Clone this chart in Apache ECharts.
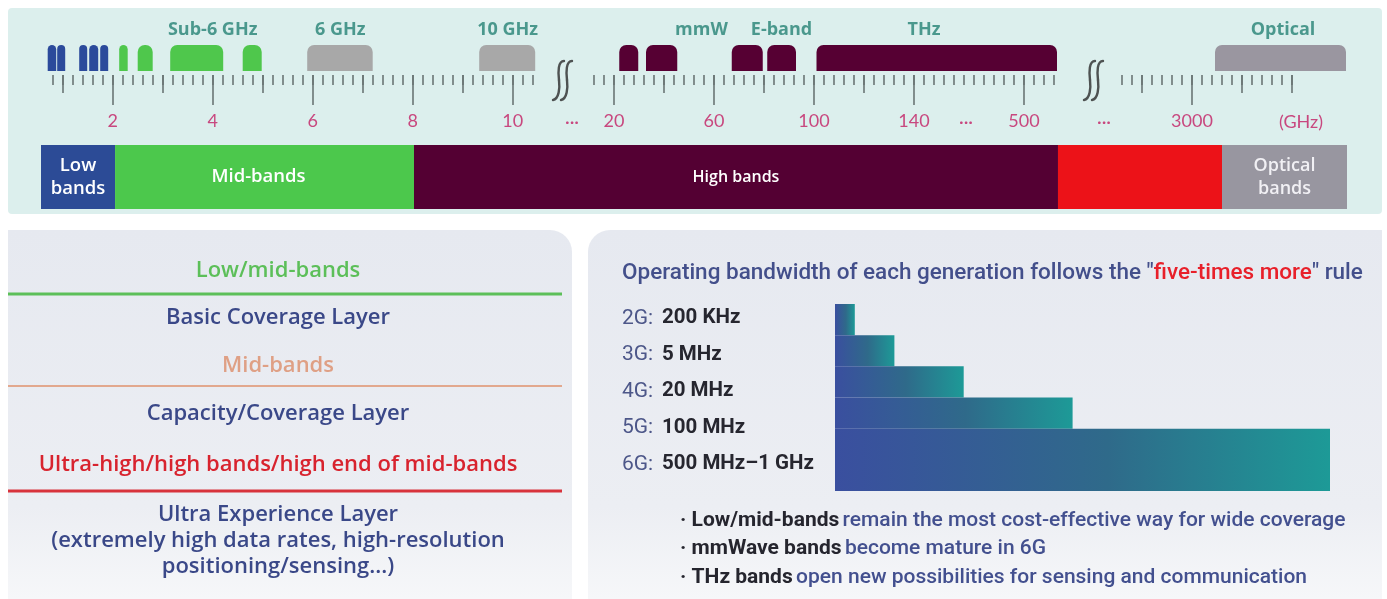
<!DOCTYPE html>
<html>
<head>
<meta charset="utf-8">
<script src="https://cdn.jsdelivr.net/npm/echarts@6/dist/echarts.min.js"></script>
<style>
  html, body { margin: 0; padding: 0; background: #ffffff; }
  #chart { width: 1387px; height: 599px; }
</style>
</head>
<body>
<div id="chart"></div>
<script>
// ---- Spectrum allocations, [from GHz, to GHz] ----
const lowBands      = [[0.70, 0.87], [0.89, 1.05], [1.33, 1.49], [1.53, 1.71], [1.75, 1.91]];
const sub6Bands     = [[2.13, 2.30], [2.50, 2.80], [3.15, 4.21], [4.60, 4.98]];
const upperMidBands = [[5.89, 7.20], [9.33, 10.45]];
const mmWaveBands   = [[22.1, 29.7], [32.8, 45.3], [67.1, 79.5], [81.3, 92.8]];
const thzBands      = [[101, 533]];
const opticalBands  = [[3230, 4540]];

// Band family captions and where they sit on the frequency scale (GHz)
const bandNames  = ['Sub-6 GHz', '6 GHz', '10 GHz', 'mmW', 'E-band', 'THz', 'Optical'];
const bandNameAt = [4, 6.55, 9.9, 55, 87, 144, 3910];

// Labelled frequencies on the ruler (GHz)
const rulerLabels = [2, 4, 6, 8, 10, 20, 60, 100, 140, 500, 3000];

// Spectrum category strip: name and share of the strip (%)
const stripNames  = ['Low\nbands', 'Mid-bands', 'High bands', '', 'Optical\nbands'];
const stripShares = [5.67, 22.89, 49.31, 12.56, 9.57];

// Left panel: layers and their band ranges
const layerBands  = ['Low/mid-bands', 'Mid-bands', 'Ultra-high/high bands/high end of mid-bands'];
const layerNames  = ['Basic Coverage Layer', 'Capacity/Coverage Layer',
                     'Ultra Experience Layer\n(extremely high data rates, high-resolution\npositioning/sensing...)'];

// Right panel: operating bandwidth per generation
const generations    = ['2G', '3G', '4G', '5G', '6G'];
const bandwidthTexts = ['200 KHz', '5 MHz', '20 MHz', '100 MHz', '500 MHz\u20131 GHz'];
const relativeWidth  = [4, 12, 26, 48, 100];

const bulletHeads = ['Low/mid-bands', 'mmWave bands', 'THz bands'];
const bulletTails = ['remain the most cost-effective way for wide coverage',
                     'become mature in 6G',
                     'open new possibilities for sensing and communication'];

// ---- Ruler layout: the frequency axis is split into linear pieces ----
const segments = [
  { min: 0.7,  max: 10.5, left: 47.7, right: 537.7, step: 0.2, first: 0.8,  last: 10.4, mid: [1, 3, 5, 7, 9] },
  { min: 12,   max: 164,  left: 594,  right: 974,   step: 4,   first: 12,   last: 164,  mid: [40, 80, 120] },
  { min: 450,  max: 535,  left: 974,  right: 1059,  step: 10,  first: 460,  last: 530,  mid: [] },
  { min: 2300, max: 4550, left: 1122, right: 1347,  step: 100, first: 2300, last: 4000, mid: [2500, 3500, 4000] }
];

const families = [
  { bands: lowBands,      color: '#2b4a9b' },
  { bands: sub6Bands,     color: '#4fc74c' },
  { bands: upperMidBands, color: '#a8a8a8' },
  { bands: mmWaveBands,   color: '#560033' },
  { bands: thzBands,      color: '#560033' },
  { bands: opticalBands,  color: '#9a96a0' }
];

const NAVY = '#3a4888';
const TICK = '#6a7574';
const PINK = '#c8487f';
const TEAL = '#258274';

const grids = [], xAxes = [], yAxes = [], series = [];

segments.forEach(function (s) {
  // grid holding the band blocks
  const gBand = grids.length;
  grids.push({ left: s.left, width: s.right - s.left, top: 45, height: 26 });
  xAxes.push({ type: 'value', gridIndex: gBand, min: s.min, max: s.max, show: false });
  yAxes.push({ type: 'value', gridIndex: gBand, min: 0, max: 1, show: false });
  const bx = xAxes.length - 1, by = yAxes.length - 1;

  const items = [];
  families.forEach(function (f, fi) {
    f.bands.forEach(function (b) {
      const a = Math.max(b[0], s.min), e = Math.min(b[1], s.max);
      if (e > a) items.push([a, e, fi, b[0] >= s.min ? 1 : 0, b[1] <= s.max ? 1 : 0]);
    });
  });
  series.push({
    type: 'custom', xAxisIndex: bx, yAxisIndex: by, data: items, silent: true,
    renderItem: function (params, api) {
      const p0 = api.coord([api.value(0), 1]);
      const p1 = api.coord([api.value(1), 0]);
      const f = families[api.value(2)];
      const w = p1[0] - p0[0];
      const r = Math.min(7, w / 2);
      return {
        type: 'rect',
        shape: { x: p0[0], y: p0[1], width: w, height: p1[1] - p0[1],
                 r: [api.value(3) ? r : 0, api.value(4) ? r : 0, 0, 0] },
        style: { fill: f.color }
      };
    }
  });

  const names = [];
  bandNameAt.forEach(function (v, i) {
    if (v >= s.min && v <= s.max) names.push({ value: [v, 1], name: bandNames[i] });
  });
  if (names.length) {
    series.push({
      type: 'scatter', xAxisIndex: bx, yAxisIndex: by, data: names, symbolSize: 0,
      clip: false, silent: true,
      label: { show: true, position: 'top', distance: 6, formatter: '{b}',
               color: TEAL, fontFamily: 'Open Sans', fontWeight: 700, fontSize: 18 }
    });
  }

  // grid holding the ruler ticks (axis line sits at y = 75)
  const gTick = grids.length;
  grids.push({ left: s.left, width: s.right - s.left, top: 45, height: 30 });
  yAxes.push({ type: 'value', gridIndex: gTick, min: 0, max: 1, show: false });
  const ticks = [];
  for (let v = s.first; v <= s.last + 1e-9; v += s.step) ticks.push(Math.round(v * 100) / 100);
  const major = rulerLabels.filter(function (v) { return v >= s.min && v <= s.max; });
  const tickSets = [[ticks, 10, []], [s.mid, 18, []], [major, 30, major]];
  tickSets.forEach(function (t) {
    xAxes.push({
      type: 'value', gridIndex: gTick, min: s.min, max: s.max, position: 'bottom',
      axisLine: { show: false }, splitLine: { show: false },
      axisTick: { show: t[0].length > 0, customValues: t[0], length: t[1],
                  lineStyle: { color: TICK, width: 1.6 } },
      axisLabel: { show: t[2].length > 0, customValues: t[2], margin: 37,
                   formatter: function (v) { return String(v); },
                   color: PINK, fontFamily: 'Lato', fontSize: 18 }
    });
  });
});

// spectrum category strip
const gStrip = grids.length;
grids.push({ left: 41, width: 1306, top: 145, height: 64 });
xAxes.push({ type: 'value', gridIndex: gStrip, min: 0, max: 100, show: false });
yAxes.push({ type: 'category', gridIndex: gStrip, data: ['spectrum'], show: false });
const stripColors = ['#2c4b96', '#4cc84c', '#540033', '#ec1218', '#9896a0'];
const stripFont   = [18.5, 18.5, 16, 16, 18];
stripShares.forEach(function (v, i) {
  series.push({
    type: 'bar', stack: 'strip', xAxisIndex: xAxes.length - 1, yAxisIndex: yAxes.length - 1,
    barWidth: '100%', data: [v], silent: true,
    itemStyle: { color: stripColors[i] },
    label: { show: stripNames[i] !== '', position: 'inside', formatter: stripNames[i],
             offset: i === 1 ? [-6, 0] : [0, 0],
             color: i === 4 ? '#f1f0f4' : '#ffffff', fontFamily: 'Open Sans', fontWeight: 600,
             fontSize: stripFont[i], lineHeight: 23 }
  });
});

// bandwidth staircase
const gStair = grids.length;
grids.push({ left: 835, width: 495, top: 304, height: 187 });
xAxes.push({ type: 'value', gridIndex: gStair, min: 0, max: 100, show: false });
yAxes.push({ type: 'value', gridIndex: gStair, min: 0, max: 6, inverse: true, show: false });
series.push({
  type: 'custom', xAxisIndex: xAxes.length - 1, yAxisIndex: yAxes.length - 1, silent: true,
  data: relativeWidth.map(function (w, i) { return [w, i]; }),
  renderItem: function (params, api) {
    const i = api.value(1);
    const last = i === relativeWidth.length - 1;
    const p0 = api.coord([0, i]);
    const p1 = api.coord([api.value(0), last ? 6 : i + 1]);
    return {
      type: 'rect',
      shape: { x: p0[0], y: p0[1], width: p1[0] - p0[0], height: p1[1] - p0[1] },
      style: {
        fill: new echarts.graphic.LinearGradient(0, 0, 1, 0, [
          { offset: 0, color: '#3a4f9f' },
          { offset: 0.55, color: '#2f6a8a' },
          { offset: 1, color: '#1d9a97' }
        ])
      }
    };
  }
});

// generation labels
const gLab = grids.length;
grids.push({ left: 622, width: 200, top: 300, height: 182.5 });
xAxes.push({ type: 'value', gridIndex: gLab, min: 0, max: 1, show: false });
yAxes.push({
  type: 'category', gridIndex: gLab, data: generations, inverse: true,
  axisLine: { show: false }, axisTick: { show: false }, splitLine: { show: false },
  axisLabel: {
    inside: true, margin: 0, align: 'left',
    formatter: function (v, idx) { return '{g|' + v + ':}{v|' + bandwidthTexts[idx] + '}'; },
    rich: {
      g: { color: '#4d5789', fontFamily: 'Roboto', fontSize: 21, width: 40 },
      v: { color: '#26262f', fontFamily: 'Roboto', fontWeight: 700, fontSize: 20.5 }
    }
  }
});

// ---- Decorations and text blocks ----
const graphics = [];
graphics.push({ type: 'rect', z: -10, shape: { x: 8, y: 8, width: 1374, height: 206, r: 4 },
                style: { fill: '#dcefed' } });
const panelFill = new echarts.graphic.LinearGradient(0, 0, 0, 1, [
  { offset: 0, color: '#e6e9f0' }, { offset: 0.75, color: '#eceef3' }, { offset: 1, color: '#f6f7f9' }
]);
graphics.push({ type: 'rect', z: -10, shape: { x: 8, y: 230, width: 564, height: 369, r: [0, 22, 0, 0] },
                style: { fill: panelFill } });
graphics.push({ type: 'rect', z: -10, shape: { x: 588, y: 230, width: 794, height: 369, r: [22, 0, 0, 0] },
                style: { fill: panelFill } });

// axis break marks: two S-shaped strokes each
[556, 1087].forEach(function (x0) {
  [0, 8].forEach(function (dx) {
    const x = x0 + dx;
    const stroke = { stroke: '#4e5252', lineWidth: 2.4, fill: null, lineCap: 'round' };
    graphics.push({ type: 'bezierCurve', z: 5,
      shape: { x1: x + 8, y1: 61, cpx1: x + 2, cpy1: 61, cpx2: x + 2, cpy2: 72, x2: x + 3, y2: 80 },
      style: stroke });
    graphics.push({ type: 'bezierCurve', z: 5,
      shape: { x1: x + 3, y1: 80, cpx1: x + 4, cpy1: 88, cpx2: x + 3, cpy2: 99, x2: x - 3, y2: 100 },
      style: stroke });
  });
});
// elisions and unit on the ruler
[[572, '\u00b7\u00b7\u00b7'], [966, '\u00b7\u00b7\u00b7'], [1104, '\u00b7\u00b7\u00b7'], [1301, '(GHz)']].forEach(function (t) {
  graphics.push({ type: 'text', z: 5, x: t[0], y: 122,
                  style: { text: t[1], fill: PINK, font: '18px Lato', align: 'center', verticalAlign: 'middle' } });
});

// left panel
const leftX = 278;
const lfont = '600 22px "Open Sans"';
function ltext(y, text, color, lh) {
  graphics.push({ type: 'text', z: 5, x: leftX, y: y,
                  style: { text: text, fill: color, font: lfont, align: 'center', verticalAlign: 'middle',
                           lineHeight: lh || 26 } });
}
function lline(y, color, w) {
  graphics.push({ type: 'line', z: 5, shape: { x1: 8, y1: y, x2: 562, y2: y },
                  style: { stroke: color, lineWidth: w } });
}
ltext(271, layerBands[0], '#5cbf59');
lline(294, '#5cbf59', 3);
ltext(318, layerNames[0], NAVY);
ltext(366, layerBands[1], '#dfa085');
lline(386, '#e2a88e', 2);
ltext(414, layerNames[1], NAVY);
ltext(465, layerBands[2], '#d8232e');
lline(491, '#d8333c', 3);
ltext(541, layerNames[2], NAVY, 26);

// right panel title
graphics.push({
  type: 'text', z: 5, x: 622, y: 273,
  style: {
    text: '{a|Operating bandwidth of each generation follows the "}{b|five-times more}{a|" rule}',
    verticalAlign: 'middle',
    rich: {
      a: { fill: '#434f8b', font: '500 22.5px Roboto' },
      b: { fill: '#e8202a', font: '500 22.5px Roboto' }
    }
  }
});

// bullets
[521, 549, 578].forEach(function (y, i) {
  graphics.push({
    type: 'text', z: 5, x: 680, y: y,
    style: {
      text: '{h|\u00b7 ' + bulletHeads[i] + '} {t|' + bulletTails[i] + '}',
      verticalAlign: 'middle',
      rich: {
        h: { fill: '#25252e', font: '700 21px Roboto' },
        t: { fill: '#43508f', font: '500 21px Roboto' }
      }
    }
  });
});

const chart = echarts.init(document.getElementById('chart'), null, { renderer: 'canvas' });
chart.setOption({
  animation: false,
  backgroundColor: '#ffffff',
  grid: grids,
  xAxis: xAxes,
  yAxis: yAxes,
  series: series,
  graphic: { elements: graphics }
});
</script>
</body>
</html>
